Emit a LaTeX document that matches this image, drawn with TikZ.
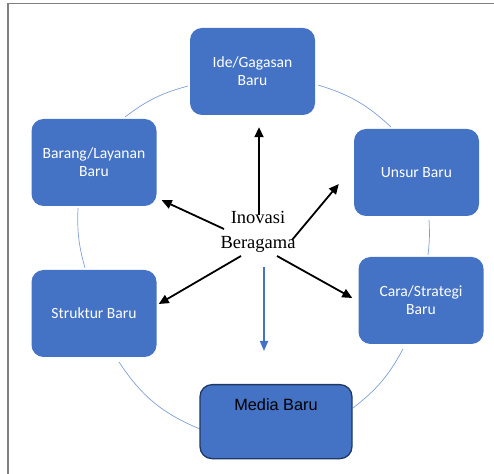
\documentclass[tikz,border=0pt]{standalone}
\usepackage{fontspec}
\setmainfont{Liberation Serif}
\newfontfamily\boxfont{Carlito}
\newfontfamily\mediafont{Liberation Sans}
\usetikzlibrary{positioning, calc, arrows.meta}
\definecolor{BoxBlue}{HTML}{4472C4}
\definecolor{EdgeNavy}{HTML}{1F3864}
\definecolor{RingBlue}{HTML}{7F9FD6}
\definecolor{FrameGray}{HTML}{808080}
\tikzset{
    bluebox/.style={rectangle, rounded corners=12pt, fill=BoxBlue, text=white, align=center,
        minimum width=125pt, minimum height=87pt, font=\boxfont\fontsize{15.6}{18}\selectfont},
    mediabox/.style={rectangle, rounded corners=12pt, fill=BoxBlue, draw=EdgeNavy, line width=1.3pt,
        text=black, minimum width=152pt, inner ysep=0pt, text height=26pt, text depth=48pt,
        font=\mediafont\fontsize{16.3}{19}\selectfont},
    ring/.style={RingBlue, line width=0.7pt},
    arrow/.style={-{Triangle[length=10pt,width=9pt]}, line width=1.8pt, black},
    bluearrow/.style={-{Triangle[length=10pt,width=8pt]}, line width=1.7pt, BoxBlue},
}
\begin{document}
\begin{tikzpicture}[x=1pt, y=1pt]
    \useasboundingbox (0,0) rectangle (494,473);
    % Bingkai
    \draw[FrameGray, line width=1.6pt] (8,-5) -- (8,469.5) -- (500,469.5);

    % Lingkaran (busur antar kotak)
    \draw[ring] (125,356) to[bend left=11] (188,387);
    \draw[ring] (318,388) to[bend left=13] (391,346);
    \draw[ring] (429,253) to[bend left=5] (428,218);
    \draw[ring] (403,124) to[bend left=12] (353,65);
    \draw[ring] (200,44) to[bend left=17] (119,111);
    \draw[ring] (85,205) to[bend left=9] (78,265);

    % Kotak-kotak
    \node[bluebox] (ide) at (252.5,401.5) {Ide/Gagasan\\Baru};
    \node[bluebox] (barang) at (94,310.5) {Barang/Layanan\\Baru};
    \node[bluebox] (unsur) at (416.5,300.5) {Unsur Baru};
    \node[bluebox] (cara) at (421,172.5) {Cara/Strategi\\Baru};
    \node[bluebox] (struktur) at (94,159.5) {Struktur Baru};
    \node[mediabox, anchor=north] (media) at (276,89) {Media Baru};

    % Teks tengah
    \node[align=center, inner sep=0pt, font=\fontsize{18.5}{25}\selectfont] (inov) at (258,241) {Inovasi\\Beragama};

    % Ujung-ujung panah
    \coordinate (tIde) at ([xshift=6.5pt, yshift=-12pt]ide.south);
    \coordinate (tBarang) at ([xshift=5pt, yshift=6pt]barang.south east);
    \coordinate (tUnsur) at ([xshift=-15pt, yshift=-11.5pt]unsur.west);
    \coordinate (tStruktur) at ([xshift=2pt, yshift=9.5pt]struktur.east);
    \coordinate (tCara) at ([xshift=-6pt, yshift=2.5pt]cara.west);
    \coordinate (tMedia) at ([xshift=-12pt, yshift=33pt]media.north);

    % Panah
    \draw[arrow] ($(inov.center)+(1,17)$) -- (tIde);
    \draw[arrow] ($(inov.center)+(-34,3)$) -- (tBarang);
    \draw[arrow] ($(inov.center)+(34,-8)$) -- (tUnsur);
    \draw[arrow] ($(inov.center)+(-17,-24)$) -- (tStruktur);
    \draw[arrow] ($(inov.center)+(19,-24)$) -- (tCara);
    \draw[bluearrow] ($(inov.center)+(6,-35)$) -- (tMedia);
\end{tikzpicture}
\end{document}
